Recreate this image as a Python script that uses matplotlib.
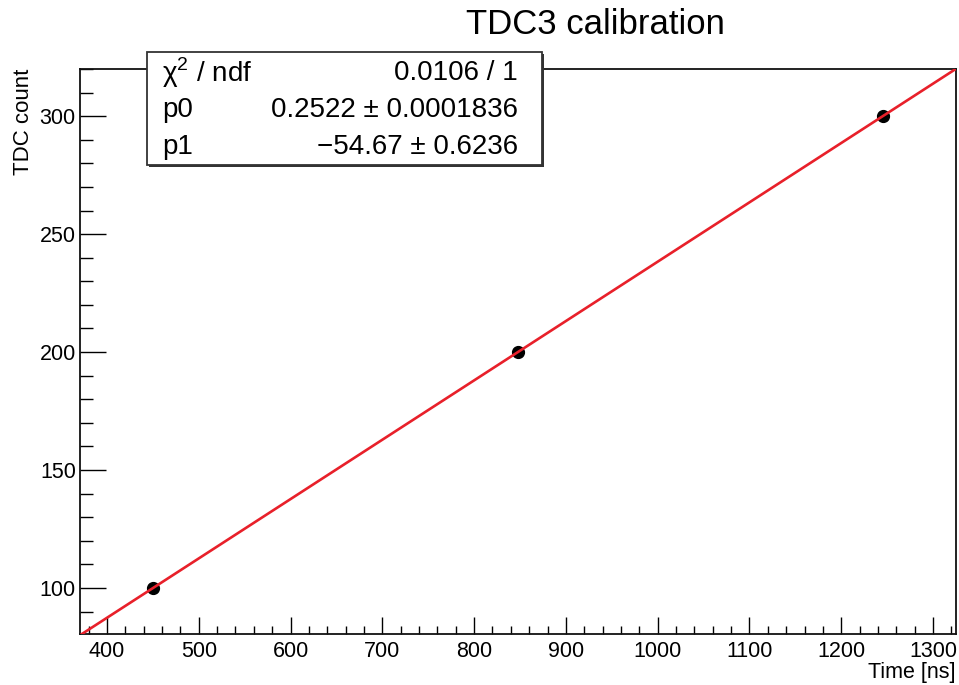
import numpy as np
import matplotlib
matplotlib.use("Agg")
import matplotlib.pyplot as plt
from matplotlib.patches import Rectangle
from matplotlib.ticker import MultipleLocator

plt.rcParams['font.family'] = ['Liberation Sans', 'DejaVu Sans']
plt.rcParams['mathtext.fontset'] = 'custom'
plt.rcParams['mathtext.rm'] = 'Liberation Sans'

# calibration points
time_ns = [450, 848, 1245]
tdc_count = [100, 200, 300]

# stats box text
stat_names = ["χ$^{2}$ / ndf", "p0", "p1"]
stat_values = ["0.0106 / 1", "0.2522 ± 0.0001836", "−54.67 ± 0.6236"]

x_range = (370.6, 1325)
y_range = (80.5, 320)

fig = plt.figure(figsize=(9.59, 6.85), dpi=100)
ax = fig.add_axes([80 / 959, 51 / 685, 876 / 959, 565 / 685])

# straight line fit through the points
slope, intercept = np.polyfit(time_ns, tdc_count, 1)
xf = np.linspace(x_range[0], x_range[1], 50)
ax.plot(xf, slope * xf + intercept, color='#e8202a', lw=1.9, zorder=4)
ax.plot(time_ns, tdc_count, 'o', color='black', ms=8.5, zorder=3)

ax.set_xlim(*x_range)
ax.set_ylim(*y_range)
ax.xaxis.set_major_locator(MultipleLocator(100))
ax.xaxis.set_minor_locator(MultipleLocator(20))
ax.yaxis.set_major_locator(MultipleLocator(50))
ax.yaxis.set_minor_locator(MultipleLocator(10))

ax.tick_params(axis='x', which='major', direction='in', length=12, width=1, pad=5, labelsize=15.5)
ax.tick_params(axis='x', which='minor', direction='in', length=6, width=1)
ax.tick_params(axis='y', which='major', direction='in', length=19, width=1, pad=3, labelsize=15.5)
ax.tick_params(axis='y', which='minor', direction='in', length=9, width=1)

for side in ['left', 'bottom', 'top', 'right']:
    ax.spines[side].set_linewidth(1.3)
    ax.spines[side].set_color('#111111')

ax.set_xlabel("Time [ns]", fontsize=15.5, loc='right', labelpad=0)
ax.set_ylabel("TDC count", fontsize=16, loc='top', labelpad=4)

fig.text(595 / 959, 1 - 25 / 685, "TDC3 calibration", fontsize=25,
         ha='center', va='center')

# stats box, sitting over the top of the frame
bx, by, bw, bh = 147 / 959, 1 - 165 / 685, 395 / 959, 113 / 685
fig.add_artist(Rectangle((bx + 1.5 / 959, by - 2 / 685), bw, bh, transform=fig.transFigure,
                         facecolor='#333333', edgecolor='none', zorder=9))
fig.add_artist(Rectangle((bx, by), bw, bh, transform=fig.transFigure,
                         facecolor='white', edgecolor='#333333', lw=1.3, zorder=10))
row_y = [73, 110, 147]
for name, val, ry in zip(stat_names, stat_values, row_y):
    fig.text(162 / 959, 1 - ry / 685, name, fontsize=20, ha='left', va='center', zorder=11)
    fig.text(518 / 959, 1 - ry / 685, val, fontsize=20, ha='right', va='center', zorder=11)

fig.savefig("out.png", dpi=100)
